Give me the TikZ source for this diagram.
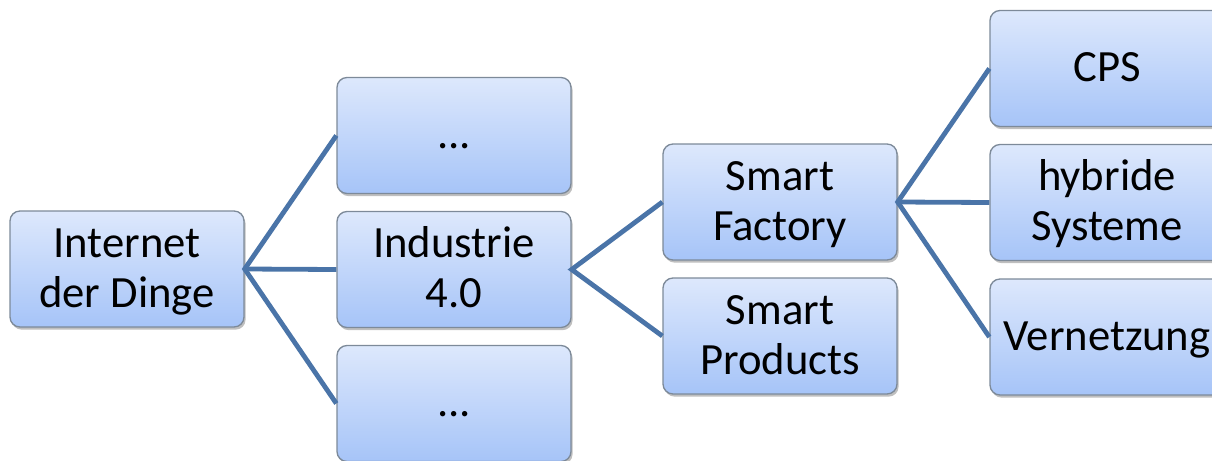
\documentclass[tikz,border=0pt]{standalone}
\usepackage{fontspec}
\setmainfont{Carlito}
\usetikzlibrary{shadows}
\definecolor{linec}{HTML}{4A74A8}
\definecolor{boxborder}{HTML}{7D8A99}
\definecolor{boxtop}{HTML}{DDE8FC}
\definecolor{boxbot}{HTML}{A6C4F8}
\newcommand\lnstrut{\rule[-8.5pt]{0pt}{36.5pt}}
\tikzset{
  box/.style={draw=boxborder, line width=1pt, rounded corners=7.5pt,
    top color=boxtop, bottom color=boxbot,
    minimum width=175.5pt, minimum height=87pt, inner sep=0pt,
    align=center, font=\fontsize{33.5pt}{37.5pt}\selectfont,
    drop shadow={shadow xshift=1.2pt, shadow yshift=-2pt, opacity=0.25, fill=black}},
  conn/.style={draw=linec, line width=3.6pt}
}
\begin{document}
\begin{tikzpicture}[x=0.75pt,y=-0.75pt]
\useasboundingbox (0,0) rectangle (1212,460);
\node[box] (idd) at (127,269) {\lnstrut Internet\\\lnstrut der Dinge};
\node[box] (d1) at (454,135.5) {\lnstrut ...};
\node[box] (ind) at (454,269.5) {\lnstrut Industrie\\\lnstrut 4.0};
\node[box] (d2) at (454,403.5) {\lnstrut ...};
\node[box] (sf) at (780,202) {\lnstrut Smart\\\lnstrut Factory};
\node[box] (sp) at (780,336) {\lnstrut Smart\\\lnstrut Products};
\node[box] (cps) at (1107,68.5) {\lnstrut CPS};
\node[box] (hyb) at (1107,202.5) {\lnstrut hybride\\\lnstrut Systeme};
\node[box] (ver) at (1107,337) {\lnstrut Vernetzung};
\draw[conn] (d1.west) -- (idd.east) -- (d2.west);
\draw[conn] (idd.east) -- (ind.west);
\draw[conn] (sf.west) -- (ind.east) -- (sp.west);
\draw[conn] (cps.west) -- (sf.east) -- (ver.west);
\draw[conn] (sf.east) -- (hyb.west);
\end{tikzpicture}
\end{document}
